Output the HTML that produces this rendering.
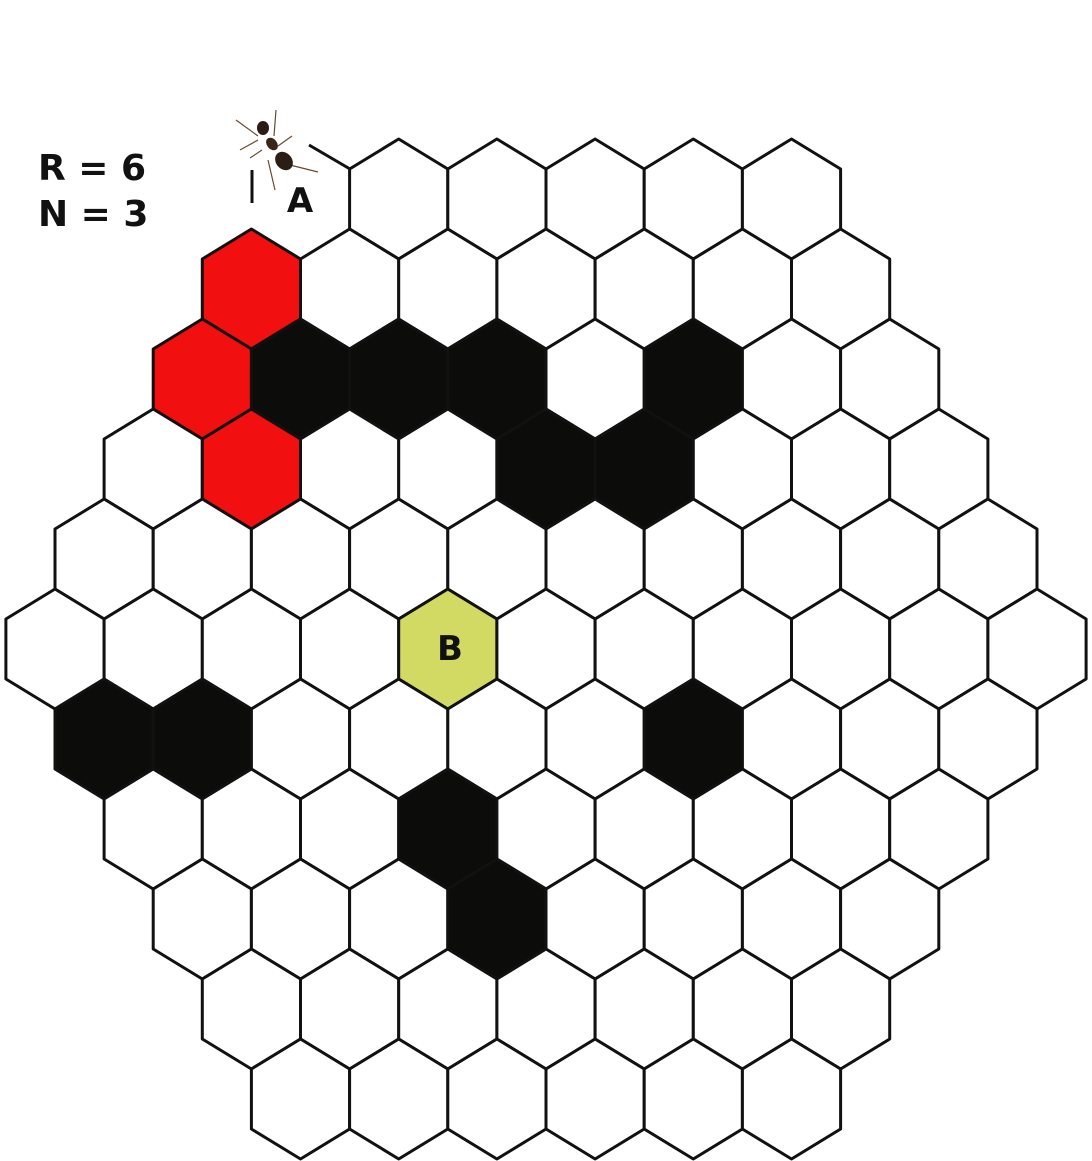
<!DOCTYPE html>
<html><head><meta charset="utf-8"><style>
html,body{margin:0;padding:0;background:#fff;}
svg{display:block;}
</style></head><body>
<svg id="chart" width="1092" height="1161" viewBox="0 0 1092 1161" xmlns="http://www.w3.org/2000/svg">
<text x="38" y="180" font-family="DejaVu Sans, sans-serif" font-weight="bold" font-size="36" fill="#111">R = 6</text>
<text x="38" y="226" font-family="DejaVu Sans, sans-serif" font-weight="bold" font-size="36" fill="#111">N = 3</text>
<g id="cells"></g>
<g stroke="#6b4a30" stroke-width="1.2" fill="none">
<line x1="236" y1="120" x2="258" y2="136"/><line x1="240" y1="150" x2="258" y2="140"/>
<line x1="276" y1="110" x2="274" y2="136"/><line x1="292" y1="136" x2="278" y2="146"/>
<line x1="268" y1="160" x2="275" y2="190"/><line x1="290" y1="165" x2="318" y2="172"/>
<line x1="262" y1="150" x2="250" y2="158"/>
<ellipse cx="263" cy="128" rx="6" ry="7" fill="#2b1d14" stroke="none"/>
<ellipse cx="272" cy="144" rx="5" ry="7" fill="#3a2619" stroke="none" transform="rotate(-40 272 144)"/>
<ellipse cx="284" cy="161" rx="8" ry="10" fill="#2b1d14" stroke="none" transform="rotate(-40 284 161)"/>
</g>
<g stroke="#111" stroke-width="3">
<line x1="309" y1="145" x2="350" y2="169"/>
<line x1="252" y1="170" x2="252" y2="203"/>
</g>
<text x="300" y="212" text-anchor="middle" font-family="DejaVu Sans, sans-serif" font-weight="bold" font-size="34" fill="#111">A</text>
<text id="labelB" x="450" y="660" text-anchor="middle" font-family="DejaVu Sans, sans-serif" font-weight="bold" font-size="34" fill="#111">B</text>
</svg>
<script>
const R = 6;
const blackCells = [[2,1],[2,2],[2,3],[2,5],[3,4],[3,5],[6,0],[6,1],[6,6],[7,3],[8,3]]; // [row, index in row], 0-based
const redCells = [[1,0],[2,0],[3,1]];
const greenCells = [[5,4]];
const hiddenCells = [[0,0]];
const originX = 55, originY = 199, hexW = 98.2, rowH = 90, hexR = 60;
function key(r,c){return r+','+c;}
const ns='http://www.w3.org/2000/svg';
const g=document.getElementById('cells');
const rows = 2*R-1;
const mid = R-1;
const blk = new Set(blackCells.map(a=>key(a[0],a[1])));
const red = new Set(redCells.map(a=>key(a[0],a[1])));
const grn = new Set(greenCells.map(a=>key(a[0],a[1])));
const hid = new Set(hiddenCells.map(a=>key(a[0],a[1])));
for(let r=0;r<rows;r++){
  const off=Math.abs(r-mid);
  const n=rows-off;
  for(let c=0;c<n;c++){
    if(hid.has(key(r,c))) continue;
    const cx=originX+hexW/2*off+hexW*c, cy=originY+rowH*r, hw=hexW/2;
    const pts=[[cx,cy-hexR],[cx+hw,cy-hexR/2],[cx+hw,cy+hexR/2],[cx,cy+hexR],[cx-hw,cy+hexR/2],[cx-hw,cy-hexR/2]].map(p=>p.join(',')).join(' ');
    const p=document.createElementNS(ns,'polygon');
    p.setAttribute('points',pts);
    let fill='#fff';
    if(blk.has(key(r,c))) fill='#0c0d0b';
    if(red.has(key(r,c))) fill='#f20f0f';
    if(grn.has(key(r,c))) fill='#d2da63';
    p.setAttribute('fill',fill);
    p.setAttribute('stroke','#111');
    p.setAttribute('stroke-width','3');
    p.setAttribute('stroke-linejoin','round');
    
    
    g.appendChild(p);
  }
}
</script>
</body></html>
